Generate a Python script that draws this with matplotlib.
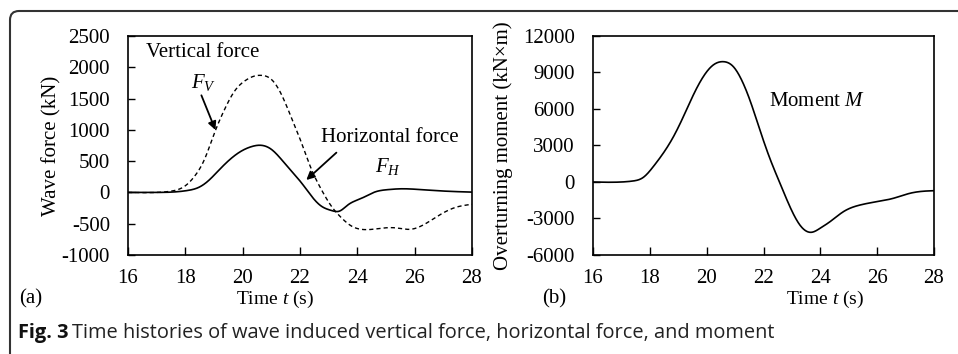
import matplotlib
matplotlib.use("Agg")
import matplotlib.pyplot as plt
import numpy as np
from matplotlib.patches import FancyBboxPatch
from matplotlib.transforms import IdentityTransform

plt.rcParams['font.family'] = ['Liberation Serif', 'DejaVu Serif']
plt.rcParams['mathtext.fontset'] = 'custom'
plt.rcParams['mathtext.rm'] = 'Liberation Serif'
plt.rcParams['mathtext.it'] = 'Liberation Serif:italic'
plt.rcParams['axes.unicode_minus'] = False

# ---- data ----
t_fv = [16, 17, 17.51, 17.98, 18.33, 18.67, 19.02, 19.37, 19.72, 20.07, 20.42, 20.65,
        21.0, 21.35, 21.7, 22.05, 22.4, 22.74, 23.09, 23.44, 23.79, 24.14, 24.72,
        25.3, 25.88, 26.23, 26.81, 27.4, 28]
fv = [0, 0, 21, 100, 263, 530, 955, 1328, 1621, 1781, 1861, 1871,
      1807, 1568, 1195, 795, 369, 50, -217, -403, -536, -590, -579,
      -565, -588, -536, -377, -243, -190]

t_fh = [16, 17, 17.51, 18.09, 18.44, 18.79, 19.14, 19.49, 19.95, 20.3, 20.65, 21.0,
        21.35, 21.7, 22.05, 22.4, 22.74, 23.09, 23.38, 23.67, 24.14, 24.6, 25.07,
        25.53, 26.12, 27.05, 28]
fh = [0, 0, 5, 32, 75, 181, 341, 500, 660, 731, 753, 689,
      528, 341, 154, -59, -218, -288, -298, -200, -95, 5, 45,
      58, 48, 21, 5]

t_m = [16, 17, 17.4, 17.77, 18.12, 18.47, 18.83, 19.18, 19.53, 19.88, 20.23, 20.59,
       20.94, 21.23, 21.52, 21.87, 22.23, 22.58, 22.93, 23.28, 23.69, 23.99, 24.34,
       24.81, 25.4, 25.98, 26.57, 27.15, 27.74, 28]
moment = [0, 0, 80, 380, 1260, 2360, 3720, 5370, 7150, 8655, 9616, 9890,
          9477, 8383, 6740, 4300, 1900, -107, -2030, -3534, -4134, -3805, -3263,
          -2441, -1890, -1620, -1340, -930, -740, -715]

xticks = [16, 18, 20, 22, 24, 26, 28]
yticks_a = [-1000, -500, 0, 500, 1000, 1500, 2000, 2500]
yticks_b = [-6000, -3000, 0, 3000, 6000, 9000, 12000]

W, H = 958, 354
fig = plt.figure(figsize=(W / 100, H / 100), dpi=100)

def px_axes(l, t, r, b):
    return fig.add_axes([l / W, 1 - b / H, (r - l) / W, (b - t) / H])

def smooth(x, y):
    # natural cubic spline through the read points
    x = np.asarray(x, float); y = np.asarray(y, float)
    n = len(x)
    h = np.diff(x)
    A = np.zeros((n, n)); r = np.zeros(n)
    A[0, 0] = 1; A[-1, -1] = 1
    for i in range(1, n - 1):
        A[i, i - 1] = h[i - 1]
        A[i, i] = 2 * (h[i - 1] + h[i])
        A[i, i + 1] = h[i]
        r[i] = 6 * ((y[i + 1] - y[i]) / h[i] - (y[i] - y[i - 1]) / h[i - 1])
    M = np.linalg.solve(A, r)
    xs = np.linspace(x.min(), x.max(), 900)
    idx = np.clip(np.searchsorted(x, xs) - 1, 0, n - 2)
    hh = h[idx]; a = x[idx + 1] - xs; b = xs - x[idx]
    ys = (M[idx] * a**3 / (6 * hh) + M[idx + 1] * b**3 / (6 * hh)
          + (y[idx] / hh - M[idx] * hh / 6) * a + (y[idx + 1] / hh - M[idx + 1] * hh / 6) * b)
    return xs, ys

def style(ax):
    for s in ax.spines.values():
        s.set_linewidth(1.2)
    ax.tick_params(axis='x', direction='in', length=6, width=1, labelsize=15, pad=10)
    ax.tick_params(axis='y', direction='in', length=5, width=1, labelsize=15, pad=13)
    ax.set_xlim(16, 28)
    ax.set_xticks(xticks)

arrow_kw = dict(arrowstyle='-|>', color='black', lw=1.3, mutation_scale=12,
                shrinkA=0, shrinkB=0)

# Left panel
ax1 = px_axes(128, 36, 472, 255)
ax1.plot(*smooth(t_fv, fv), color='black', lw=1.0, ls=(0, (3, 2.2)))
ax1.plot(*smooth(t_fh, fh), color='black', lw=1.2)
style(ax1)
ax1.set_ylim(-1000, 2500)
ax1.set_yticks(yticks_a)
ax1.set_ylabel('Wave force (kN)', fontsize=15)
ax1.yaxis.set_label_coords((61 - 128) / 344, 0.5)
ax1.text(16.64, 2234, 'Vertical force', fontsize=15, va='center')
ax1.text(18.2, 1754, r'$F_V$', fontsize=15, va='center')
ax1.annotate('', xy=(19.05, 998), xytext=(18.56, 1552), arrowprops=arrow_kw)
ax1.text(22.72, 875, 'Horizontal force', fontsize=15, va='center')
ax1.text(24.6, 422, r'$F_H$', fontsize=15, va='center')
ax1.annotate('', xy=(22.22, 199), xytext=(23.27, 636), arrowprops=arrow_kw)

# Right panel
ax2 = px_axes(593, 36, 934, 255)
ax2.plot(*smooth(t_m, moment), color='black', lw=1.2)
style(ax2)
ax2.set_ylim(-6000, 12000)
ax2.set_yticks(yticks_b)
ax2.set_ylabel(u'Overturning moment (kN\u00d7m)', fontsize=15)
ax2.yaxis.set_label_coords((513 - 593) / 341, 0.5)
ax2.text(22.2, 6600, r'Moment $M$', fontsize=15, va='center')

# bottom labels
fig.text(275 / W, 1 - 299 / H, r'Time $t$ (s)', fontsize=14, ha='center', va='center')
fig.text(825 / W, 1 - 299 / H, r'Time $t$ (s)', fontsize=14, ha='center', va='center')
fig.text(19 / W, 1 - 299 / H, '(a)', fontsize=15, ha='left', va='center')
fig.text(542 / W, 1 - 299 / H, '(b)', fontsize=15, ha='left', va='center')

# caption
cap_fam = ['Open Sans', 'DejaVu Sans']
cap_y = 1 - 333 / H
t1 = fig.text(18 / W, cap_y, 'Fig. 3', fontsize=12, fontweight='bold',
              family=cap_fam, ha='left', va='center', color='#111111')
fig.canvas.draw()
bb = t1.get_window_extent()
t2 = fig.text((bb.x1 + 4) / W, cap_y,
              'Time histories of wave induced vertical force, horizontal force, and moment',
              fontsize=12, family=cap_fam, ha='left', va='center', color='#222222')
fig.canvas.draw()
# scale the caption so that it spans the same width as in the reference
scale = (772 - 18) / (t2.get_window_extent().x1 - 18)
t1.set_fontsize(12 * scale)
fig.canvas.draw()
bb = t1.get_window_extent()
t2.set_fontsize(12 * scale)
t2.set_x((bb.x1 + 4) / W)

# rounded frame
frame = FancyBboxPatch((10, -40), 1000, H - 11 + 40,
                       boxstyle='round,pad=0,rounding_size=9',
                       transform=IdentityTransform(), fill=False,
                       edgecolor='#333333', linewidth=1.5)
fig.patches.append(frame)

fig.savefig('out.png', dpi=100)
